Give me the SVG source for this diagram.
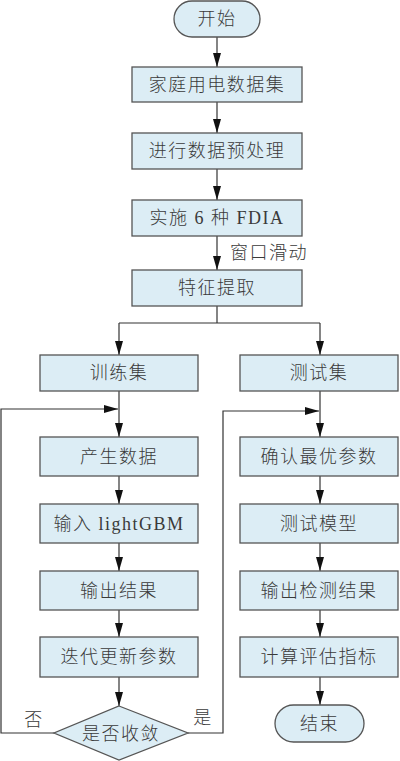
<svg xmlns="http://www.w3.org/2000/svg" width="400" height="761" viewBox="0 0 400 761">
<defs>
<marker id="ah" viewBox="0 0 14 8" refX="14" refY="4" markerWidth="14" markerHeight="8" markerUnits="userSpaceOnUse" orient="auto">
<path d="M0,0 L14,4 L0,8 z" fill="#111"/>
</marker>
<style>
.box{fill:#dcedf5;stroke:#555;stroke-width:1.3}
.t{font-family:"Liberation Serif","Noto Sans CJK SC",serif;font-size:18px;font-weight:300;fill:#3a3a3a;text-anchor:middle;dominant-baseline:central;letter-spacing:1.5px}
.l{fill:none;stroke:#333;stroke-width:1.2}
.a{fill:none;stroke:#333;stroke-width:1.2;marker-end:url(#ah)}
</style>
</defs>
<rect width="400" height="761" fill="#fff"/>
<g id="connectors">
<line class="a" x1="217" y1="37" x2="217" y2="67"/>
<line class="a" x1="217" y1="102" x2="217" y2="133"/>
<line class="a" x1="217" y1="169" x2="217" y2="200"/>
<line class="a" x1="217" y1="236" x2="217" y2="270"/>
<polyline class="l" points="217,306 217,323"/>
<polyline class="a" points="119,323 119,355"/>
<polyline class="l" points="119,323 320,323"/>
<polyline class="a" points="320,323 320,355"/>
<line class="a" x1="119" y1="391" x2="119" y2="437"/>
<line class="a" x1="119" y1="476" x2="119" y2="504"/>
<line class="a" x1="119" y1="543" x2="119" y2="571"/>
<line class="a" x1="119" y1="610" x2="119" y2="637"/>
<line class="a" x1="119" y1="677" x2="119" y2="706"/>
<polyline class="a" points="54,733 1,733 1,409 118,409"/>
<polyline class="a" points="188,733 223,733 223,411 319,411"/>
<line class="a" x1="320" y1="391" x2="320" y2="437"/>
<line class="a" x1="320" y1="476" x2="320" y2="504"/>
<line class="a" x1="320" y1="543" x2="320" y2="571"/>
<line class="a" x1="320" y1="610" x2="320" y2="637"/>
<line class="a" x1="320" y1="677" x2="320" y2="705"/>
<text class="t" x="269" y="253">窗口滑动</text>
<text class="t" x="34" y="720">否</text>
<text class="t" x="203" y="718">是</text>
</g>
<g id="start"><rect class="box" x="174" y="1" width="86" height="36" rx="18"/><text class="t" x="217" y="19">开始</text></g>
<g id="n1"><rect class="box" x="132" y="67" width="170" height="35"/><text class="t" x="217" y="84.5">家庭用电数据集</text></g>
<g id="n2"><rect class="box" x="132" y="133" width="170" height="36"/><text class="t" x="217" y="151">进行数据预处理</text></g>
<g id="n3"><rect class="box" x="132" y="200" width="170" height="36"/><text class="t" x="217" y="218">实施 6 种 FDIA</text></g>
<g id="n4"><rect class="box" x="132" y="270" width="170" height="36"/><text class="t" x="217" y="288">特征提取</text></g>
<g id="train"><rect class="box" x="40" y="355" width="158" height="36"/><text class="t" x="119" y="373">训练集</text></g>
<g id="test"><rect class="box" x="240" y="355" width="158" height="36"/><text class="t" x="319" y="373">测试集</text></g>
<g id="gen"><rect class="box" x="40" y="437" width="158" height="39"/><text class="t" x="119" y="456.5">产生数据</text></g>
<g id="lgbm"><rect class="box" x="40" y="504" width="158" height="39"/><text class="t" x="119" y="523.5">输入 lightGBM</text></g>
<g id="out"><rect class="box" x="40" y="571" width="158" height="39"/><text class="t" x="119" y="590.5">输出结果</text></g>
<g id="iter"><rect class="box" x="40" y="637" width="158" height="40"/><text class="t" x="119" y="657">迭代更新参数</text></g>
<g id="conv"><polygon class="box" points="119,706 188,733 119,760 54,733"/><text class="t" x="121" y="734">是否收敛</text></g>
<g id="best"><rect class="box" x="240" y="437" width="158" height="39"/><text class="t" x="319" y="456.5">确认最优参数</text></g>
<g id="model"><rect class="box" x="240" y="504" width="158" height="39"/><text class="t" x="319" y="523.5">测试模型</text></g>
<g id="detect"><rect class="box" x="240" y="571" width="158" height="39"/><text class="t" x="319" y="590.5">输出检测结果</text></g>
<g id="eval"><rect class="box" x="240" y="637" width="158" height="40"/><text class="t" x="319" y="657">计算评估指标</text></g>
<g id="end"><rect class="box" x="275" y="705" width="89" height="37" rx="18.5"/><text class="t" x="319.5" y="723.5">结束</text></g>
</svg>
